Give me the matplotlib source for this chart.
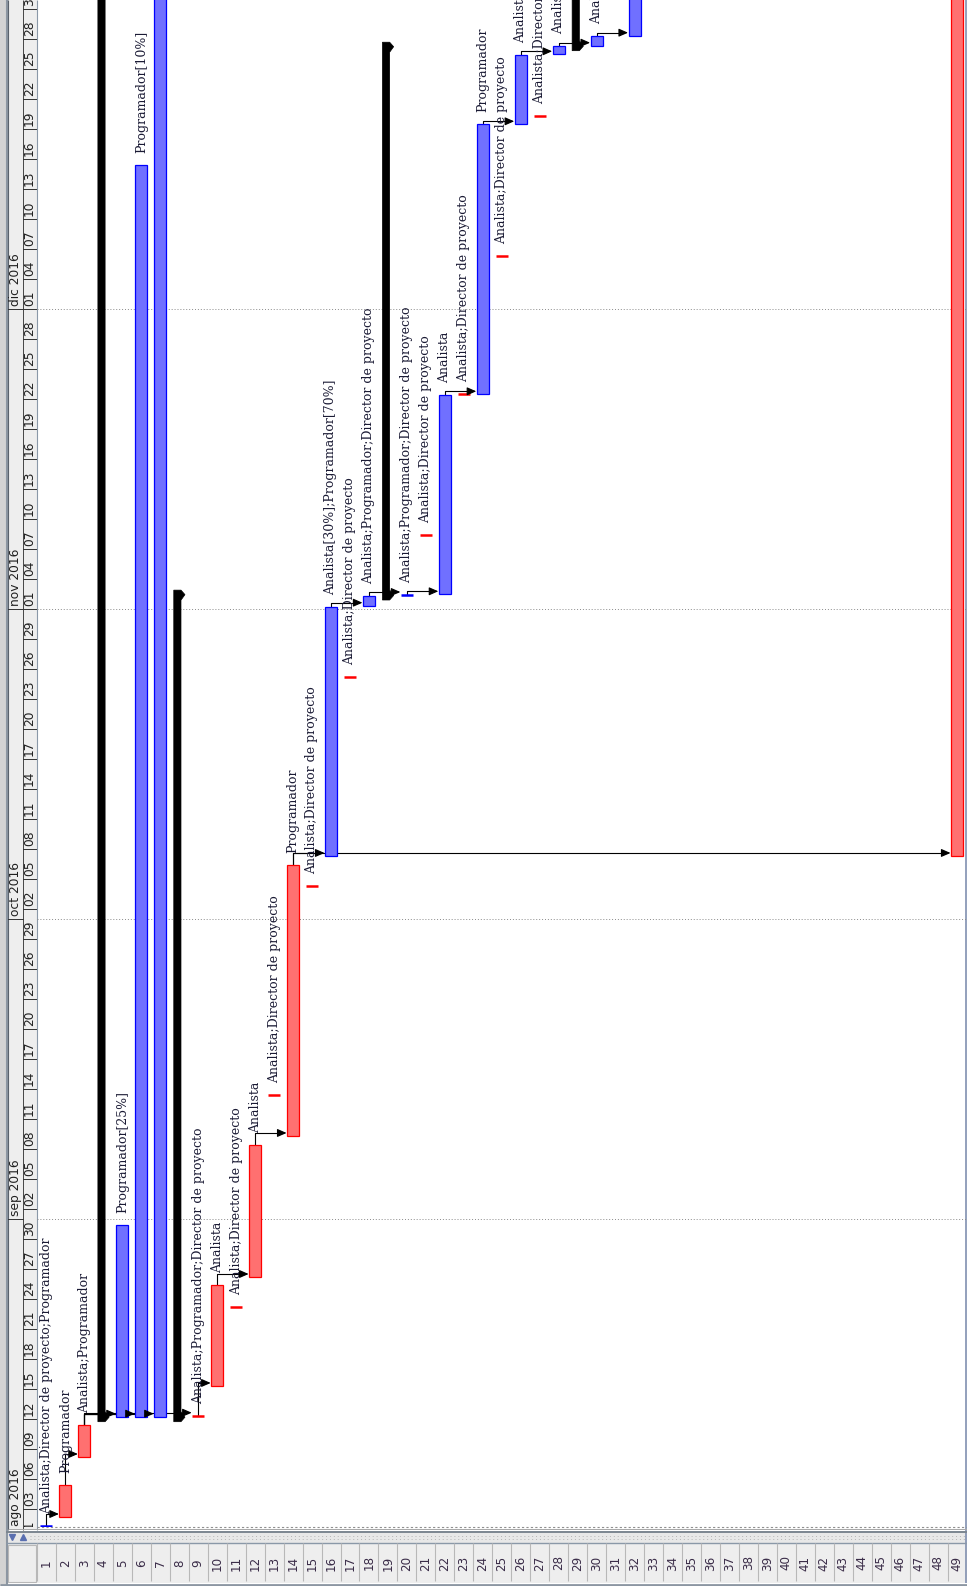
import datetime as dt
import matplotlib
matplotlib.use('Agg')
import matplotlib.pyplot as plt
import matplotlib.dates as mdates
from matplotlib.patches import Rectangle, Polygon

W, H = 967, 1586
ROW_PX = 18.97   # width of one task row in pixels
DAY_PX = 10.0    # height of one day in pixels

#' task data (rows read left -> right, time runs bottom -> top)
task_row = [1, 2, 3, 4, 5, 6, 7, 8, 9, 10, 11, 12, 13, 14, 15, 16,
            17, 18, 19, 20, 21, 22, 23, 24, 25, 26, 27, 28, 29, 30, 32, 49]
task_kind = ['ms', 'bar', 'bar', 'sum', 'bar', 'bar', 'bar', 'sum', 'ms', 'bar', 'ms', 'bar', 'ms', 'bar', 'ms', 'bar',
             'ms', 'bar', 'sum', 'ms', 'ms', 'bar', 'ms', 'bar', 'ms', 'bar', 'ms', 'bar', 'sum', 'bar', 'bar', 'bar']
task_color = ['blue', 'red', 'red', 'black', 'blue', 'blue', 'blue', 'black', 'red', 'red', 'red', 'red', 'red', 'red', 'red', 'blue',
              'red', 'blue', 'black', 'blue', 'red', 'blue', 'red', 'blue', 'red', 'blue', 'red', 'blue', 'black', 'blue', 'blue', 'red']
task_start = ['2016-08-01 09:00', '2016-08-02 05:30', '2016-08-08 05:30', '2016-08-12 06:15',
              '2016-08-12 06:15', '2016-08-12 06:15', '2016-08-12 06:15', '2016-08-12 06:15',
              '2016-08-12 08:40', '2016-08-15 08:00', '2016-08-23 06:15', '2016-08-26 05:30',
              '2016-09-13 10:20', '2016-09-09 08:00', '2016-10-04 08:00', '2016-10-07 08:00',
              '2016-10-25 06:15', '2016-11-01 08:40', '2016-11-02 10:20', '2016-11-02 10:20',
              '2016-11-08 10:20', '2016-11-02 12:00', '2016-11-22 12:40', '2016-11-22 12:00',
              '2016-12-06 08:00', '2016-12-19 12:00', '2016-12-20 08:40', '2016-12-26 12:00',
              '2016-12-27 08:40', '2016-12-27 08:40', '2016-12-28 08:40', '2016-10-07 08:00']
task_end = ['2016-08-01 09:00', '2016-08-05 10:20', '2016-08-11 10:20', '2017-01-15 00:00',
            '2016-08-31 10:20', '2016-12-15 10:20', '2017-01-15 00:00', '2016-11-02 22:00',
            '2016-08-12 08:40', '2016-08-25 10:20', '2016-08-23 06:15', '2016-09-08 10:20',
            '2016-09-13 10:20', '2016-10-06 10:20', '2016-10-04 08:00', '2016-11-01 05:30',
            '2016-10-25 06:15', '2016-11-02 08:00', '2016-12-27 17:00', '2016-11-02 10:20',
            '2016-11-08 10:20', '2016-11-22 10:20', '2016-11-22 12:40', '2016-12-19 12:00',
            '2016-12-06 08:00', '2016-12-26 10:20', '2016-12-20 08:40', '2016-12-27 08:00',
            '2017-01-15 00:00', '2016-12-28 08:00', '2017-01-15 00:00', '2017-01-15 00:00']
task_label = ['Analista;Director de proyecto;Programador', 'Programador', 'Analista;Programador', '',
              'Programador[25%]', 'Programador[10%]', '', '',
              'Analista;Programador;Director de proyecto', 'Analista', 'Analista;Director de proyecto', 'Analista',
              'Analista;Director de proyecto', 'Programador', 'Analista;Director de proyecto', 'Analista[30%];Programador[70%]',
              'Analista;Director de proyecto', 'Analista;Programador;Director de proyecto', '', 'Analista;Programador;Director de proyecto',
              'Analista;Director de proyecto', 'Analista', 'Analista;Director de proyecto', 'Programador',
              'Analista;Director de proyecto', 'Analista;Director de proyecto', 'Analista;Director de proyecto', 'Analista;Director de proyecto',
              '', 'Analista;Director de proyecto', '', '']
links = [(1, 2), (2, 3), (3, 5), (3, 6), (3, 7), (3, 9), (9, 10), (10, 12), (12, 14), (14, 16), (14, 49),
         (16, 18), (18, 20), (20, 22), (22, 24), (24, 26), (26, 28), (28, 30), (30, 32)]

month_labels = ['ago 2016', 'sep 2016', 'oct 2016', 'nov 2016', 'dic 2016']
month_starts = ['2016-08-01', '2016-09-01', '2016-10-01', '2016-11-01', '2016-12-01']
row_numbers = list(range(1, 50))

FILL = {'blue': '#7070ff', 'red': '#ff7070', 'black': 'black'}
EDGE = {'blue': '#0000ff', 'red': '#ff0000', 'black': 'black'}

base = mdates.datestr2num('2016-08-01')
starts = [mdates.datestr2num(s) for s in task_start]
ends = [mdates.datestr2num(s) for s in task_end]
by_row = {r: i for i, r in enumerate(task_row)}


def px_rect(x0, y0, x1, y1):
    return [x0 / W, 1 - y1 / H, (x1 - x0) / W, (y1 - y0) / H]


fig = plt.figure(figsize=(W / 100, H / 100), dpi=100)

#' background / window chrome in pixel coordinates
bg = fig.add_axes([0, 0, 1, 1], zorder=-1)
bg.set_xlim(0, W)
bg.set_ylim(H, 0)
bg.axis('off')
bg.add_patch(Rectangle((0, 0), 6, H, color='#d3d3d3', lw=0))
bg.add_patch(Rectangle((8, 0), 29, 1530, color='#eeeeee', lw=0))
bg.add_patch(Rectangle((6, 1531), W - 6, 12, color='#e8e8e8', lw=0))
bg.add_patch(Rectangle((6, 1543), W - 6, 40, color='#eeeeee', lw=0))
bg.vlines(6.5, 0, H, color='#8c96a2', lw=1.5)
bg.vlines(7.8, 0, 1530, color='#59616b', lw=0.8)
bg.vlines(22.5, 0, 1530, color='#444444', lw=0.7)
bg.vlines(36.5, 0, 1530, color='#8a98a8', lw=0.8)
bg.vlines(966.2, 0, 1583, color='#8090b0', lw=1.2)
bg.hlines(1526.7, 37, W, color='#909090', lw=0.8, linestyles=(0, (2, 2)))
bg.hlines(1529.2, 8, W, color='#a8a8a8', lw=0.7)
bg.hlines(1531.5, 6, W, color='#7c8690', lw=1.4)
bg.hlines([1535.5, 1538.5], 30, W, color='#b4b4b4', lw=0.7, linestyles=(0, (1, 3)))
bg.plot([12], [1537], marker='v', color='#5a6fb0', ms=4)
bg.plot([23], [1536.5], marker='^', color='#5a6fb0', ms=4)
bg.hlines(1543, 6, W, color='#8a98a8', lw=1.0)
bg.hlines(1584.5, 0, W, color='#8c96a2', lw=2.0)
bg.add_patch(Rectangle((8, 1545), 28, 37, fill=False, ec='#b8b8b8', lw=0.8))

#' gantt area
ax = fig.add_axes(px_rect(37, 0, 967, 1527))
ax.set_xlim(0.5, 0.5 + 930 / ROW_PX)
ax.set_ylim(base + 0.23, base + 1529.3 / DAY_PX)
ax.axis('off')

hw = 6 / ROW_PX
for m in month_starts:
    ax.axhline(mdates.datestr2num(m), color='#8a8a8a', lw=0.7, ls=(0, (1, 2)), zorder=0)

#' dependency connectors
for p, s in links:
    i, j = by_row[p], by_row[s]
    cp = task_row[i]
    xs = task_row[j] - hw - 0.03
    lvl = starts[j] + 0.3
    ax.plot([cp, cp, xs - 0.2], [ends[i], lvl, lvl], color='black', lw=0.8, zorder=1)
    ax.annotate('', xy=(xs, lvl), xytext=(xs - 0.4, lvl),
                arrowprops=dict(arrowstyle='-|>,head_length=0.5,head_width=0.22', color='black',
                                lw=0.8, mutation_scale=11, shrinkA=0, shrinkB=0), zorder=4)

#' bars, summaries and milestones
for i, r in enumerate(task_row):
    s, e, k, c = starts[i], ends[i], task_kind[i], task_color[i]
    if k == 'bar':
        ax.add_patch(Rectangle((r - hw, s), 2 * hw, e - s, fc=FILL[c], ec=EDGE[c], lw=0.9, zorder=3))
    elif k == 'sum':
        xl, xb, xr = r - 0.29, r + 0.09, r + 0.3
        s0 = s - 0.5
        pts = [(xl, s0), (xb, s0), (xr, s0 + 0.45), (xb, s0 + 1.0),
               (xb, e - 1.0), (xr, e - 0.45), (xb, e), (xl, e)]
        ax.add_patch(Polygon(pts, closed=True, fc='black', ec='black', lw=0.5, zorder=3))
    else:
        ax.plot([r - hw, r + hw], [s, s], color=EDGE[c], lw=1.8, solid_capstyle='butt', zorder=3)
    if task_label[i]:
        ax.text(r, e + 1.2, task_label[i], rotation=90, ha='center', va='bottom',
                family='DejaVu Serif', fontsize=9.0, color='#1a1a34', clip_on=True, zorder=5)

#' timeline header (month row + day row)
axh = fig.add_axes(px_rect(8, 0, 37, 1527), sharey=ax)
axh.set_xlim(8, 37)
axh.axis('off')
tick_days = []
d = dt.date(2016, 7, 31)
while d <= dt.date(2017, 1, 1):
    tick_days.append(d)
    d += dt.timedelta(days=3)
for d in tick_days:
    y = mdates.date2num(d)
    axh.plot([22.5, 36.5], [y, y], color='#333333', lw=0.7, clip_on=True)
    axh.text(29.6, y + 0.3, d.strftime('%d'), rotation=90, ha='center', va='bottom',
             family='DejaVu Sans', fontsize=8.8, color='#202020', clip_on=True)
for lab, m in zip(month_labels, month_starts):
    y = mdates.datestr2num(m)
    axh.plot([8, 22.5], [y, y], color='#333333', lw=0.7, clip_on=True)
    axh.text(15.2, y + 0.3, lab, rotation=90, ha='center', va='bottom',
             family='DejaVu Sans', fontsize=8.8, color='#202020', clip_on=True)

#' row number strip
axr = fig.add_axes(px_rect(37, 1543, 967, 1583), sharex=ax)
axr.set_ylim(0, 1)
axr.axis('off')
axr.vlines([n + 0.5 for n in [0] + row_numbers], 0.05, 1, color='#b8b8b8', lw=0.8)
for n in row_numbers:
    axr.text(n, 0.5, str(n), rotation=90, ha='center', va='center',
             family='DejaVu Sans', fontsize=8.6, color='#3a2c48')

fig.savefig('out.png', dpi=100)
